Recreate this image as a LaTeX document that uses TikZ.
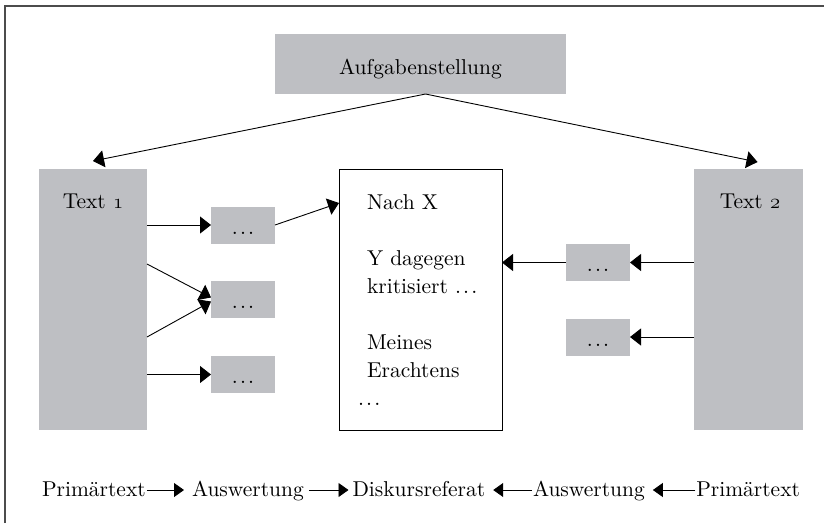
\documentclass[tikz,border=0pt]{standalone}
\usepackage{fontspec}
\setmainfont{lmroman10-regular.otf}[BoldFont=lmroman10-bold.otf, ItalicFont=lmroman10-italic.otf]
\usetikzlibrary{arrows.meta,calc}
\definecolor{boxgray}{RGB}{190,191,195}
\newcommand\osf[1]{{\usefont{OML}{cmm}{m}{it}#1}}
\newcommand\dd{.\kern2.2pt.\kern2.2pt.}
\begin{document}
\begin{tikzpicture}[x=1pt,y=-1pt,
  every node/.style={inner sep=0pt, outer sep=0pt},
  graybox/.style={fill=boxgray, draw=none},
  dotbox/.style={graybox, minimum width=64pt, minimum height=37pt, text height=18pt, text depth=0pt},
  tallbox/.style={minimum height=261pt},
  arr/.style={-{Triangle[length=11pt,width=17pt]}, line width=0.9pt},
  barr/.style={-{Triangle[length=10pt,width=14pt]}, line width=0.9pt},
  lbl/.style={anchor=base},
  font=\fontsize{21.5}{28}\selectfont]
\useasboundingbox (0,0) rectangle (824,523);
\draw[line width=1.1pt, black!70] (5,523) -- (5,6) -- (824,6);

\node[graybox, minimum width=291pt, minimum height=60pt, text height=20pt, text depth=0pt] (auf) at (420.5,64) {Aufgabenstellung};

\node[graybox, tallbox, minimum width=108pt] (t1) at (93,299.5) {};
\node[lbl] (t1l) at (93,208) {Text \osf{1}};
\node[graybox, tallbox, minimum width=109pt] (t2) at (748.5,299.5) {};
\node[lbl] (t2l) at (750,208) {Text \osf{2}};

\node[draw, line width=0.9pt, fill=white, tallbox, minimum width=163pt] (c) at (420.5,299.5) {};
\node[anchor=base west, text width=140pt, align=left] (ct) at (367,209)
  {Nach X\\[28pt]Y dagegen\\kritisiert \dd\\[28pt]Meines\\Erachtens\\\hspace*{-9pt}\dd};

\node[dotbox] (s1) at (243,225) {\dd};
\node[dotbox] (s2) at (243,299.5) {\dd};
\node[dotbox] (s3) at (243,374.5) {\dd};
\node[dotbox] (r1) at (598,262.5) {\dd};
\node[dotbox] (r2) at (598,337) {\dd};

\draw[arr] ([xshift=5pt]auf.south) -- ($(t1.north)+(0,-8)$);
\draw[arr] ([xshift=5pt]auf.south) -- ($(t2.north)+(9,-7)$);

\draw[arr] (t1.east |- s1.west) -- (s1.west);
\draw[arr] ($(t1.north east)+(0,95)$) -- ($(s2.west)+(0,-2)$);
\draw[arr] ($(t1.north east)+(0,168)$) -- ($(s2.west)+(0,2)$);
\draw[arr] (t1.east |- s3.west) -- (s3.west);
\draw[arr] (s1.east) -- ($(c.north west)+(0,34)$);

\draw[arr] (t2.west |- r1.east) -- (r1.east);
\draw[arr] (r1.west) -- (c.east |- r1.west);
\draw[arr] (t2.west |- r2.east) -- (r2.east);

\node[anchor=base west] (p1) at (42,496) {Primärtext};
\node[anchor=base west] (a1) at (192,496) {Auswertung};
\node[anchor=base west] (d) at (352.5,496) {Diskursreferat};
\node[anchor=base west] (a2) at (533,496) {Auswertung};
\node[anchor=base east] (p2) at (800,496) {Primärtext};

\draw[barr] ($(p1.base east)+(1,-6)$) -- ($(a1.base west)+(-8,-6)$);
\draw[barr] ($(a1.base east)+(5,-6)$) -- ($(d.base west)+(-4,-6)$);
\draw[barr] ($(a2.base west)+(-1,-6)$) -- ($(d.base east)+(8,-6)$);
\draw[barr] ($(p2.base west)+(-1,-6)$) -- ($(a2.base east)+(8,-6)$);
\end{tikzpicture}
\end{document}
